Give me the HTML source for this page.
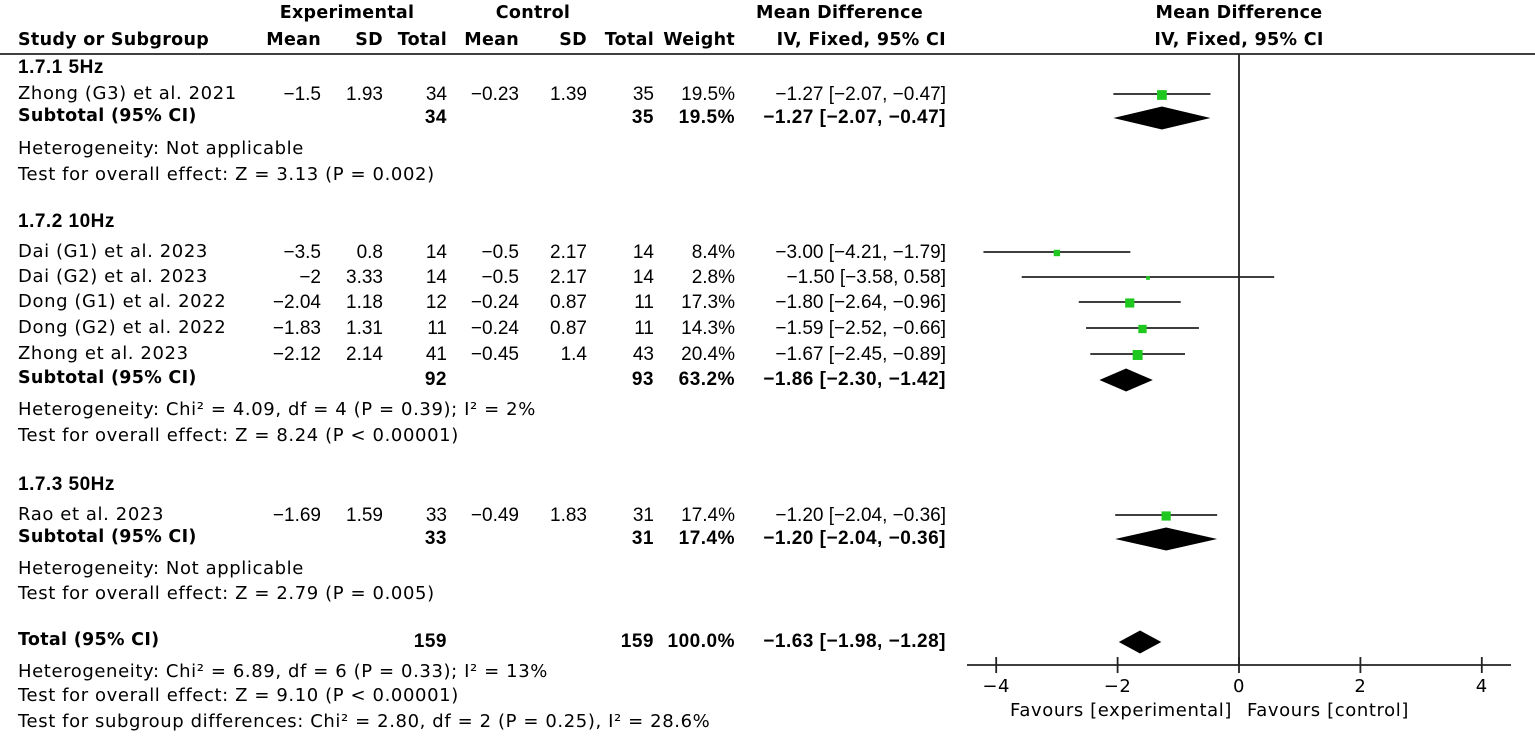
<!DOCTYPE html>
<html><head><meta charset="utf-8"><style>
html,body{margin:0;padding:0;background:#fff;}
#c{position:relative;width:1535px;height:740px;overflow:hidden;font-family:"DejaVu Sans","Liberation Sans",sans-serif;font-size:16px;color:#000;}
.t{position:absolute;white-space:nowrap;line-height:1;}
.b{font-weight:bold;}
.big{font-size:18px;letter-spacing:0.6px;}
.bigb{font-size:17.5px;letter-spacing:0.3px;}
.num{font-family:"Liberation Sans",sans-serif;font-size:19px;}
.numb{font-family:"Liberation Sans",sans-serif;font-size:19px;letter-spacing:0.5px;}
</style></head><body>
<div id="c">
<svg id="plot" width="1535" height="740" style="position:absolute;left:0;top:0"></svg>
</div>
<script>
const studyNames=["Zhong (G3) et al. 2021","Dai (G1) et al. 2023","Dai (G2) et al. 2023","Dong (G1) et al. 2022","Dong (G2) et al. 2022","Zhong et al. 2023","Rao et al. 2023"];
const studyRowsY=[95,253,278,303,329,355,516];
const expMean=["−1.5","−3.5","−2","−2.04","−1.83","−2.12","−1.69"];
const expSD=["1.93","0.8","3.33","1.18","1.31","2.14","1.59"];
const expN=["34","14","14","12","11","41","33"];
const ctlMean=["−0.23","−0.5","−0.5","−0.24","−0.24","−0.45","−0.49"];
const ctlSD=["1.39","2.17","2.17","0.87","0.87","1.4","1.83"];
const ctlN=["35","14","14","11","11","43","31"];
const weights=[19.5,8.4,2.8,17.3,14.3,20.4,17.4];
const md=[-1.27,-3.00,-1.50,-1.80,-1.59,-1.67,-1.20];
const lo=[-2.07,-4.21,-3.58,-2.64,-2.52,-2.45,-2.04];
const hi=[-0.47,-1.79,0.58,-0.96,-0.66,-0.89,-0.36];
const subLabels=["Subtotal (95% CI)","Subtotal (95% CI)","Subtotal (95% CI)","Total (95% CI)"];
const subRowsY=[118,380,539,642];
const subExpN=["34","92","33","159"];
const subCtlN=["35","93","31","159"];
const subW=["19.5%","63.2%","17.4%","100.0%"];
const subMD=[-1.27,-1.86,-1.20,-1.63];
const subLo=[-2.07,-2.30,-2.04,-1.98];
const subHi=[-0.47,-1.42,-0.36,-1.28];
const ticks=[-4,-2,0,2,4];

const c=document.getElementById('c');
const svg=document.getElementById('plot');
const NS="http://www.w3.org/2000/svg";
function xs(v){return 1239+v*60.7;}
function fmt(v){return (v<0?"−":"")+Math.abs(v).toFixed(2);}
function txt(s,x,y,opts){
  const d=document.createElement('div');
  d.className='t'+(opts.b?' b':'')+(opts.cls?' '+opts.cls:'');
  d.textContent=s;
  
  
  d.style.top=(y-(opts.cls?10:9))+'px';
  if(opts.right!==undefined){d.style.right=(1535-opts.right)+'px';}else if(opts.center!==undefined){d.style.left=(opts.center-300)+'px';d.style.width='600px';d.style.textAlign='center';}else{d.style.left=x+'px';}
  c.appendChild(d);return d;
}
function sv(tag,attrs){const e=document.createElementNS(NS,tag);for(const k in attrs)e.setAttribute(k,attrs[k]);svg.appendChild(e);return e;}
const R={em:321,esd:383,en:447,cm:519,csd:587,cn:654,w:735,ci:946};
txt("Experimental",0,15,{b:1,cls:'bigb',center:347,name:'experimental-header'});
txt("Control",0,15,{b:1,cls:'bigb',center:533,name:'control-header'});
txt("Mean Difference",0,15,{b:1,cls:'bigb',right:923,name:'md-header'});
txt("Mean Difference",0,15,{b:1,cls:'bigb',center:1239,name:'md-plot-header'});
txt("Study or Subgroup",18,42,{b:1,cls:'bigb',name:'study-header'});
[["Mean",R.em],["SD",R.esd],["Total",R.en],["Mean",R.cm],["SD",R.csd],["Total",R.cn],["Weight",R.w],["IV, Fixed, 95% CI",R.ci]].forEach(h=>txt(h[0],0,42,{b:1,cls:'bigb',right:h[1],name:'column-header'}));
txt("IV, Fixed, 95% CI",0,42,{b:1,cls:'bigb',center:1239,name:'plot-ci-header'});
let hl=sv('line',{x1:0,y1:54,x2:1535,y2:54,stroke:'#000','stroke-width':1.5});


[["1.7.1 5Hz",68],["1.7.2 10Hz",222],["1.7.3 50Hz",485]].forEach(g=>txt(g[0],18,g[1],{b:1,cls:'numb',name:'subgroup-title'}));
[["Heterogeneity: Not applicable",150],["Test for overall effect: Z = 3.13 (P = 0.002)",176],
 ["Heterogeneity: Chi² = 4.09, df = 4 (P = 0.39); I² = 2%",411],["Test for overall effect: Z = 8.24 (P < 0.00001)",437],
 ["Heterogeneity: Not applicable",570],["Test for overall effect: Z = 2.79 (P = 0.005)",595],
 ["Heterogeneity: Chi² = 6.89, df = 6 (P = 0.33); I² = 13%",673],["Test for overall effect: Z = 9.10 (P < 0.00001)",697],
 ["Test for subgroup differences: Chi² = 2.80, df = 2 (P = 0.25), I² = 28.6%",723]].forEach(n=>txt(n[0],18,n[1],{cls:'big',name:'statistics-note'}));
let zl=sv('line',{x1:xs(0),y1:54,x2:xs(0),y2:665,stroke:'#222','stroke-width':1.8});


for(let i=0;i<studyNames.length;i++){
  const y=studyRowsY[i];
  txt(studyNames[i],18,y,{cls:'big',name:'study-name'});
  txt(expMean[i],0,y,{cls:'num',right:R.em,name:'exp-mean'});
  txt(expSD[i],0,y,{cls:'num',right:R.esd,name:'exp-sd'});
  txt(expN[i],0,y,{cls:'num',right:R.en,name:'exp-total'});
  txt(ctlMean[i],0,y,{cls:'num',right:R.cm,name:'ctl-mean'});
  txt(ctlSD[i],0,y,{cls:'num',right:R.csd,name:'ctl-sd'});
  txt(ctlN[i],0,y,{cls:'num',right:R.cn,name:'ctl-total'});
  txt(weights[i].toFixed(1)+"%",0,y,{cls:'num',right:R.w,name:'weight'});
  txt(fmt(md[i])+" ["+fmt(lo[i])+", "+fmt(hi[i])+"]",0,y,{cls:'num',right:R.ci,name:'ci-text'});
  const ly=y-1;
  const l=sv('line',{x1:xs(lo[i]),y1:ly,x2:xs(hi[i]),y2:ly,stroke:'#222','stroke-width':1.8});
  
  
  const s=Math.max(3.5,Math.sqrt(weights[i])*2.2);
  const r=sv('rect',{x:xs(md[i])-s/2,y:ly-s/2+1,width:s,height:s,fill:'#1ec81e'});
  
  
}
for(let i=0;i<subLabels.length;i++){
  const y=subRowsY[i];
  txt(subLabels[i],18,y,{b:1,cls:'bigb',name:'subtotal-label'});
  txt(subExpN[i],0,y,{b:1,cls:'numb',right:R.en,name:'subtotal-exp-total'});
  txt(subCtlN[i],0,y,{b:1,cls:'numb',right:R.cn,name:'subtotal-ctl-total'});
  txt(subW[i],0,y,{b:1,cls:'numb',right:R.w,name:'subtotal-weight'});
  txt(fmt(subMD[i])+" ["+fmt(subLo[i])+", "+fmt(subHi[i])+"]",0,y,{b:1,cls:'numb',right:R.ci,name:'subtotal-ci'});
  const cy=y,h=11.5;
  const p=sv('polygon',{points:`${xs(subLo[i])},${cy} ${xs(subMD[i])},${cy-h} ${xs(subHi[i])},${cy} ${xs(subMD[i])},${cy+h}`,fill:'#000'});
  
  
}
let ax=sv('line',{x1:967,y1:665,x2:1511,y2:665,stroke:'#222','stroke-width':1.8});


ticks.forEach(t=>{
  const tk=sv('line',{x1:xs(t),y1:657,x2:xs(t),y2:673,stroke:'#222','stroke-width':1.8});
  
  
  txt((t<0?"−":"")+Math.abs(t),0,688,{center:xs(t),cls:'big',name:'x-tick-label'});
});
txt("Favours [experimental]",0,712,{right:1232,cls:'big',name:'favours-experimental'});
txt("Favours [control]",1247,712,{cls:'big',name:'favours-control'});
</script>
</body></html>
